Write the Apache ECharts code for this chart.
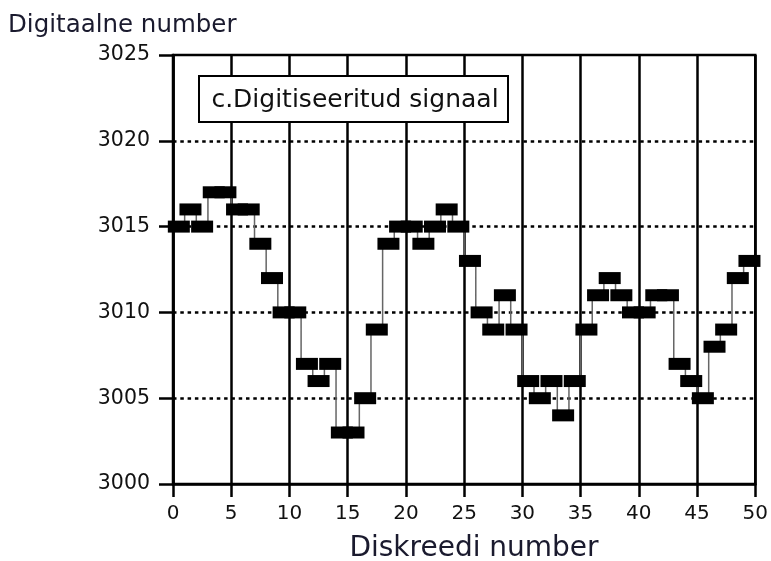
<!DOCTYPE html>
<html>
<head>
<meta charset="utf-8">
<script src="https://cdn.jsdelivr.net/npm/echarts@6/dist/echarts.min.js"></script>
<style>
html,body{margin:0;padding:0;background:#fff;}
#c{width:771px;height:561px;}
</style>
</head>
<body>
<div id="c"></div>
<script>
const sampleX = [0.5,1.5,2.5,3.5,4.5,5.5,6.5,7.5,8.5,9.5,10.5,11.5,12.5,13.5,14.5,15.5,16.5,17.5,18.5,19.5,
  20.5,21.5,22.5,23.5,24.5,25.5,26.5,27.5,28.5,29.5,30.5,31.5,32.5,33.5,34.5,35.5,36.5,37.5,38.5,39.5,
  40.5,41.5,42.5,43.5,44.5,45.5,46.5,47.5,48.5,49.5];
const digitalValues = [3015,3016,3015,3017,3017,3016,3016,3014,3012,3010,
  3010,3007,3006,3007,3003,3003,3005,3009,3014,3015,
  3015,3014,3015,3016,3015,3013,3010,3009,3011,3009,
  3006,3005,3006,3004,3006,3009,3011,3012,3011,3010,
  3010,3011,3011,3007,3006,3005,3008,3009,3012,3013];
const xTickLabels = ['0','5','10','15','20','25','30','35','40','45','50'];
const yTickLabels = ['3000','3005','3010','3015','3020','3025'];
const yAxisTitle = 'Digitaalne number';
const xAxisTitle = 'Diskreedi number';
const boxLabel = 'c.Digitiseeritud signaal';

const xMin = Number(xTickLabels[0]), xMax = Number(xTickLabels[xTickLabels.length-1]);
const xStep = Number(xTickLabels[1]) - xMin;
const yMin = Number(yTickLabels[0]), yMax = Number(yTickLabels[yTickLabels.length-1]);
const yStep = Number(yTickLabels[1]) - yMin;

const seriesData = sampleX.map((x, i) => [x, digitalValues[i]]);
const FONT = 'DejaVu Sans';

const chart = echarts.init(document.getElementById('c'), null, {renderer: 'canvas'});
chart.setOption({
  animation: false,
  backgroundColor: '#fff',
  grid: {
    left: 173, top: 55, width: 586, height: 429,
    show: true, borderColor: '#000', borderWidth: 2.5, backgroundColor: 'transparent'
  },
  xAxis: {
    type: 'value', min: xMin, max: xMax, interval: xStep,
    axisLine: {show: true, onZero: false, lineStyle: {color: '#000', width: 2.5}},
    axisTick: {show: true, length: 13, lineStyle: {color: '#000', width: 2.5}},
    axisLabel: {fontFamily: FONT, fontSize: 20, color: '#111', margin: 20,
      formatter: v => xTickLabels[Math.round((v - xMin) / xStep)]},
    splitLine: {show: true, lineStyle: {color: '#000', width: 2.5, type: 'solid'}}
  },
  yAxis: {
    type: 'value', min: yMin, max: yMax, interval: yStep,
    axisLine: {show: true, onZero: false, lineStyle: {color: '#000', width: 2.5}},
    axisTick: {show: true, length: 14, lineStyle: {color: '#000', width: 2.5}},
    axisLabel: {fontFamily: FONT, fontSize: 20.5, color: '#111', margin: 23,
      formatter: v => yTickLabels[Math.round((v - yMin) / yStep)]},
    splitLine: {show: true, showMinLine: false, showMaxLine: false,
      lineStyle: {color: '#000', width: 2.5, type: [3.5, 3.8]}}
  },
  series: [{
    type: 'line',
    step: 'middle',
    data: seriesData,
    symbol: 'rect',
    symbolSize: [22, 12],
    showSymbol: true,
    showAllSymbol: true,
    clip: false,
    z: 5,
    itemStyle: {color: '#000'},
    lineStyle: {color: '#666', width: 1.5}
  }],
  graphic: [
    {type: 'text', left: 8, top: 13, z: 100,
      style: {text: yAxisTitle, fontFamily: FONT, fontSize: 24.5, fill: '#1a1a2e'}},
    {type: 'text', x: 474, y: 549, z: 100,
      style: {text: xAxisTitle, fontFamily: FONT, fontSize: 28, fill: '#1a1a2e', align: 'center', verticalAlign: 'middle'}},
    {type: 'rect', z: 100, shape: {x: 199, y: 76, width: 309, height: 46},
      style: {fill: '#fff', stroke: '#000', lineWidth: 2}},
    {type: 'text', z: 101, x: 355, y: 100,
      style: {text: boxLabel, fontFamily: FONT, fontSize: 25, fill: '#111', align: 'center', verticalAlign: 'middle'}}
  ]
});
</script>
</body>
</html>
